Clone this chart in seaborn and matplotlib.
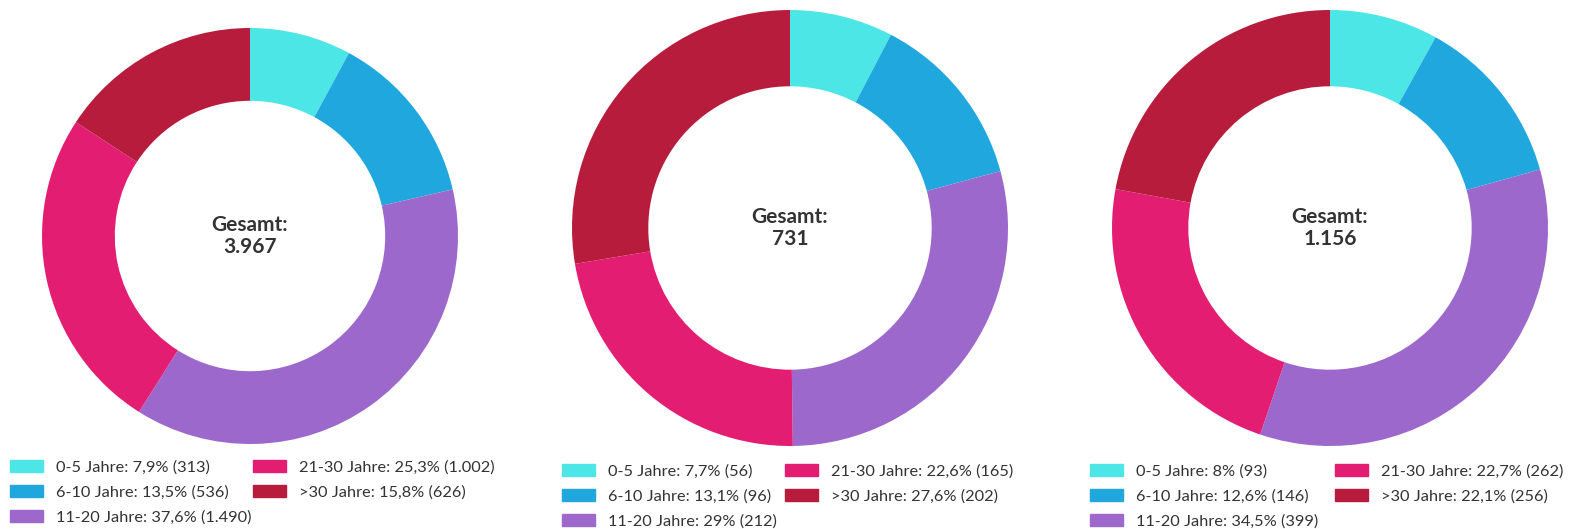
import matplotlib
matplotlib.use("Agg")
import matplotlib.pyplot as plt
import matplotlib.patches as mpatches
import seaborn as sns

# Data
groups = ["0-5 Jahre", "6-10 Jahre", "11-20 Jahre", "21-30 Jahre", ">30 Jahre"]
counts_a = [313, 536, 1490, 1002, 626]
counts_b = [56, 96, 212, 165, 202]
counts_c = [93, 146, 399, 262, 256]
pct_a = ["7,9%", "13,5%", "37,6%", "25,3%", "15,8%"]
pct_b = ["7,7%", "13,1%", "29%", "22,6%", "27,6%"]
pct_c = ["8%", "12,6%", "34,5%", "22,7%", "22,1%"]
count_labels_a = ["313", "536", "1.490", "1.002", "626"]
count_labels_b = ["56", "96", "212", "165", "202"]
count_labels_c = ["93", "146", "399", "262", "256"]
totals = ["3.967", "731", "1.156"]

colors = ["#4de6e6", "#20a8de", "#9d68cc", "#e31e72", "#b81c3c"]

sns.set_theme(style="white")
plt.rcParams["font.family"] = ["Lato", "DejaVu Sans"]
text_color = "#333333"

W, H = 1571, 529
fig = plt.figure(figsize=(W / 100, H / 100), dpi=100)

# (counts, pcts, count labels, total, center x, center y, radius,
#  legend col1 x, legend col2 x, legend first row y)
charts = [
    (counts_a, pct_a, count_labels_a, totals[0], 250, 236, 208, 10, 253, 469),
    (counts_b, pct_b, count_labels_b, totals[1], 790, 228, 218, 562, 785, 473),
    (counts_c, pct_c, count_labels_c, totals[2], 1330, 228, 218, 1090, 1335, 473),
]

fs = 11.8
for counts, pcts, clabels, total, cx, cy, R, lx1, lx2, ly in charts:
    ax = fig.add_axes([(cx - R) / W, (H - cy - R) / H, 2 * R / W, 2 * R / H])
    ax.pie(counts, colors=colors, startangle=90, counterclock=False,
           radius=1, wedgeprops=dict(width=0.35, edgecolor="none"))
    ax.set_xlim(-1, 1)
    ax.set_ylim(-1, 1)
    ax.set_aspect("equal")
    ax.axis("off")
    ax.text(0, 0, f"Gesamt:\n{total}", ha="center", va="center",
            fontsize=15, fontweight="bold", color=text_color, linespacing=1.15)

    handles = [mpatches.Patch(color=c) for c in colors]
    labels = [f"{g}: {p} ({n})" for g, p, n in zip(groups, pcts, clabels)]
    for idx, lx in [([0, 1, 2], lx1), ([3, 4], lx2)]:
        fig.legend([handles[i] for i in idx], [labels[i] for i in idx],
                   loc="upper left", bbox_to_anchor=(lx / W, 1 - (ly - 9) / H),
                   frameon=False, fontsize=fs, handlelength=2.0,
                   handleheight=0.75, handletextpad=0.78,
                   labelspacing=0.62, borderaxespad=0, borderpad=0,
                   labelcolor=text_color)

fig.savefig("out.png", dpi=100, facecolor="white")
